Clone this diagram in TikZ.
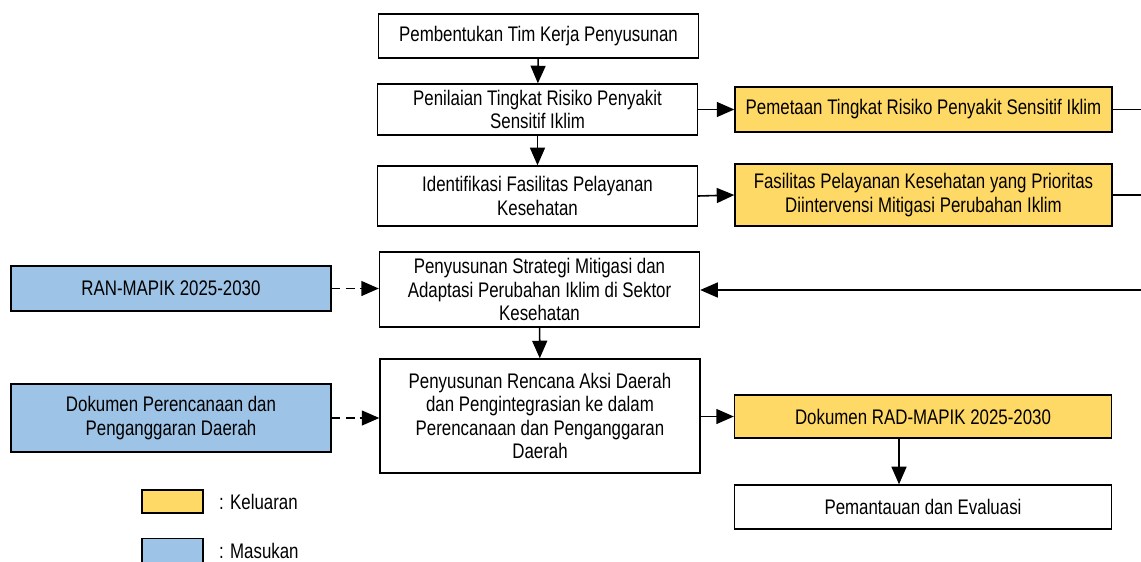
\documentclass[tikz,border=0pt]{standalone}
\usepackage{fontspec}
\setmainfont{Liberation Sans}[FakeStretch=0.8]
\usetikzlibrary{positioning,arrows.meta}
\definecolor{keluaran}{HTML}{FFD966}
\definecolor{masukan}{HTML}{9DC3E6}
\newcommand{\bnode}[4]{\node [#3] (#1) at (#2) {#4}}
\tikzset{
  box/.style={draw, line width=0.8pt, align=center, minimum width=6.4cm, inner sep=2pt, font=\fontsize{12}{13.4}\selectfont},
  outbox/.style={box, fill=keluaran, minimum width=7.54cm},
  inbox/.style={box, fill=masukan},
  arr/.style={-{Triangle[length=10pt,width=8.5pt]}, line width=0.9pt},
  darr/.style={arr, dash pattern=on 5pt off 3pt},
  legbox/.style={draw, line width=0.8pt, minimum width=1.22cm, minimum height=0.46cm},
  legtext/.style={anchor=west, font=\fontsize{12}{13.4}\selectfont}
}
\begin{document}
\begin{tikzpicture}[x=0.02cm, y=-0.02cm]
\useasboundingbox (0,0) rectangle (1141,561);

\bnode{box1}{538.5,36}{box, minimum height=0.88cm}{Pembentukan Tim Kerja Penyusunan};
\bnode{box2}{537.5,109.5}{box, minimum height=1.02cm}{Penilaian Tingkat Risiko Penyakit\\Sensitif Iklim};
\bnode{box3}{537.5,196}{box, minimum height=1.2cm}{Identifikasi Fasilitas Pelayanan\\Kesehatan};
\bnode{box4}{539.5,289.5}{box, minimum height=1.5cm}{Penyusunan Strategi Mitigasi dan\\Adaptasi Perubahan Iklim di Sektor\\Kesehatan};
\bnode{box5}{540,416}{box, minimum height=2.28cm}{Penyusunan Rencana Aksi Daerah\\dan Pengintegrasian ke dalam\\Perencanaan dan Penganggaran\\Daerah};

\bnode{out1}{923.5,109.5}{outbox, minimum height=0.9cm}{Pemetaan Tingkat Risiko Penyakit Sensitif Iklim};
\bnode{out2}{923.5,195}{outbox, minimum height=1.24cm}{Fasilitas Pelayanan Kesehatan yang Prioritas\\Diintervensi Mitigasi Perubahan Iklim};
\bnode{out3}{923,416.5}{outbox, minimum height=0.86cm}{Dokumen RAD-MAPIK 2025-2030};
\bnode{eval}{923,507}{box, minimum width=7.54cm, minimum height=0.88cm}{Pemantauan dan Evaluasi};

\bnode{in1}{171,288.5}{inbox, minimum height=0.9cm}{RAN-MAPIK 2025-2030};
\bnode{in2}{171,418}{inbox, minimum height=1.36cm}{Dokumen Perencanaan dan\\Penganggaran Daerah};

\bnode{leg1}{172.5,501.5}{legbox, fill=keluaran}{};
\bnode{leg2}{172.5,551}{legbox, fill=masukan, minimum height=0.5cm}{};
\node [legtext] (tk) at (213,501.5) {: Keluaran};
\node [legtext] (tm) at (213,551) {: Masukan};

\coordinate (r1) at (1145,109.5);
\coordinate (r2) at (1145,195);
\coordinate (r3) at (1145,290);
\coordinate (d3) at (899,460);

\draw[arr] (box1) -- (box2);
\draw[arr] (box2) -- (box3);
\draw[arr] (box4) -- (box5);
\draw[arr] (box2.east) -- (out1.west);
\draw[arr] (box3.east) -- (out2.west);
\draw[arr] (box5.east |- out3) -- (out3.west);
\draw[arr] (out3.south -| d3) -- (eval.north -| d3);
\draw[darr] (in1.east) -- (in1.east -| box4.west);
\draw[darr] (in2.east) -- (in2.east -| box5.west);

\draw[line width=0.9pt] (out1.east) -- (r1);
\draw[line width=0.9pt] (out2.east) -- (r2);
\draw[arr] (r3) -- (box4.east |- r3);

\end{tikzpicture}
\end{document}
